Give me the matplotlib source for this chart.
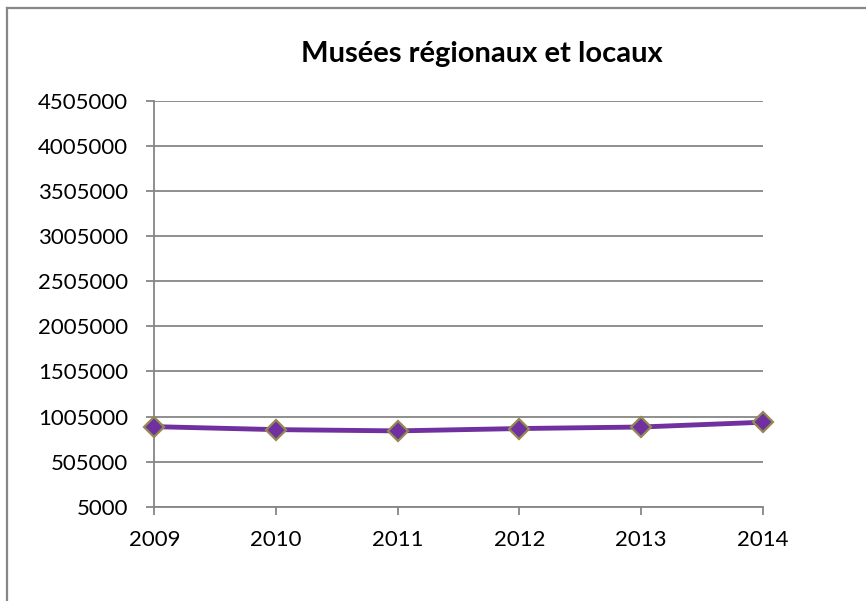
import matplotlib
matplotlib.use("Agg")
import matplotlib.pyplot as plt
from matplotlib.lines import Line2D

# data
years = [2009, 2010, 2011, 2012, 2013, 2014]
visitors = [893000, 860000, 846000, 872000, 889000, 942000]
y_ticks = [5000, 505000, 1005000, 1505000, 2005000, 2505000,
           3005000, 3505000, 4005000, 4505000]
title = "Musées régionaux et locaux"

GRID = "#868686"
PURPLE = "#7030A0"
OLIVE = "#938953"

plt.rcParams["font.family"] = ["Lato", "DejaVu Sans"]

fig = plt.figure(figsize=(8.66, 6.01), dpi=100)
ax = fig.add_axes([0.1782, 0.1569, 0.8806 - 0.1782, 0.8319 - 0.1569])

ax.plot(years, visitors, color=PURPLE, lw=3.5, marker="D", ms=10,
        markerfacecolor=PURPLE, markeredgecolor=OLIVE, markeredgewidth=1.6,
        clip_on=False, zorder=5)

ax.set_xlim(years[0], years[-1])
ax.set_ylim(y_ticks[0], y_ticks[-1])
ax.set_xticks(years)
ax.set_xticklabels([str(y) for y in years])
ax.set_yticks(y_ticks)
ax.set_yticklabels([str(v) for v in y_ticks])

ax.grid(axis="y", color=GRID, lw=1.3)
ax.set_axisbelow(True)
for s in ["top", "right"]:
    ax.spines[s].set_visible(False)
for s in ["left", "bottom"]:
    ax.spines[s].set_color(GRID)
    ax.spines[s].set_linewidth(1.3)

ax.tick_params(axis="both", direction="out", length=5.8, width=1.3,
               color=GRID, labelsize=16, labelcolor="black")
ax.tick_params(axis="y", pad=13)
ax.tick_params(axis="x", pad=11)

fig.text(481.5 / 866, 1 - 54 / 601, title, ha="center", va="center",
         fontsize=21, fontweight="bold")

# chart border (only left and top edges are visible in the crop)
fig.add_artist(Line2D([6.7 / 866, 6.7 / 866], [0, 1 - 7.5 / 601],
                      transform=fig.transFigure, color="#878787", lw=1.6))
fig.add_artist(Line2D([6.7 / 866, 1], [1 - 7.5 / 601, 1 - 7.5 / 601],
                      transform=fig.transFigure, color="#878787", lw=1.6))

fig.savefig("out.png", dpi=100)
